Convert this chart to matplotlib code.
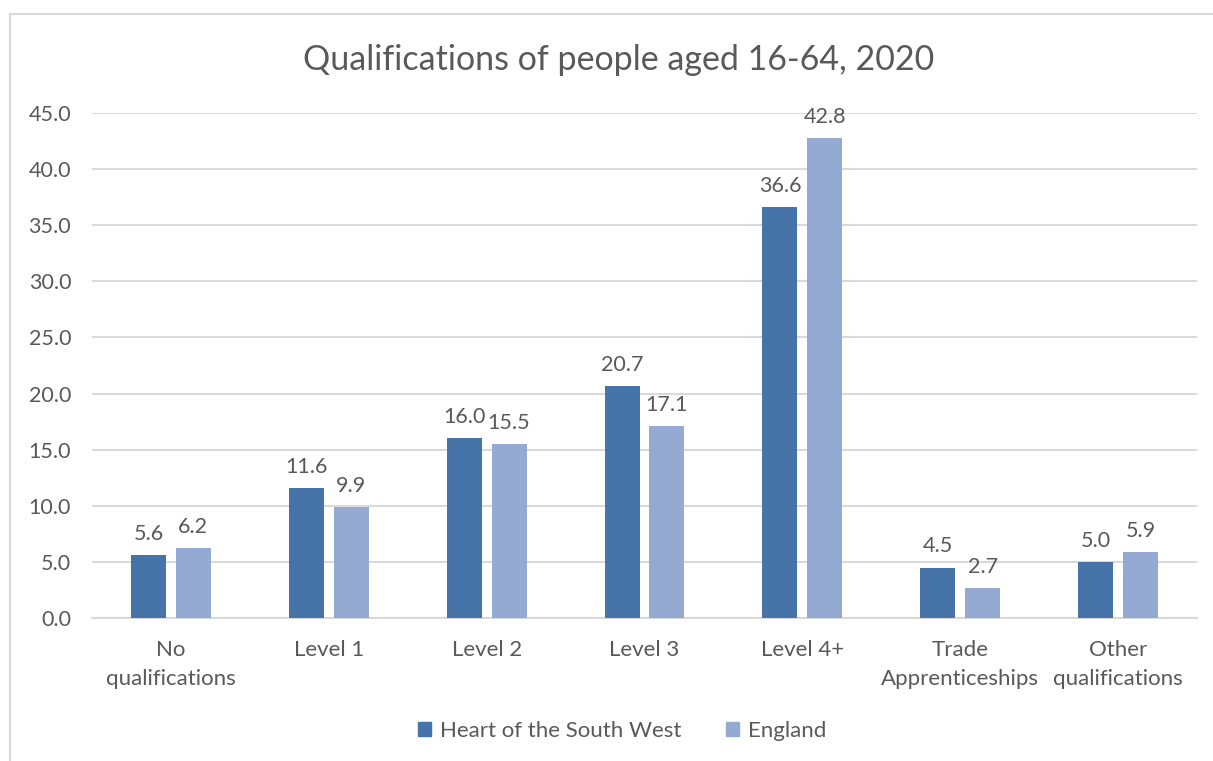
import matplotlib.pyplot as plt
import numpy as np
from matplotlib.lines import Line2D
import matplotlib.patches as mpatches

plt.rcParams['font.family'] = ['Lato', 'DejaVu Sans']

categories = ["No\nqualifications", "Level 1", "Level 2", "Level 3", "Level 4+",
              "Trade\nApprenticeships", "Other\nqualifications"]
hotsw = [5.6, 11.6, 16.0, 20.7, 36.6, 4.5, 5.0]
england = [6.2, 9.9, 15.5, 17.1, 42.8, 2.7, 5.9]
series_names = ["Heart of the South West", "England"]
colors = ["#4674A9", "#95AAD2"]

TEXT = "#595959"
GRID = "#D9D9D9"

W, H = 1213, 761
fig = plt.figure(figsize=(W / 100, H / 100), dpi=100)
ax = fig.add_axes([92 / W, 1 - 618 / H, (1197 - 92) / W, (618 - 113) / H])

x = np.arange(len(categories))
bw = 0.222
off = 0.142
for vals, dx, c in ((hotsw, -off, colors[0]), (england, off, colors[1])):
    bars = ax.bar(x + dx, vals, width=bw, color=c, zorder=3)
    for b, v in zip(bars, vals):
        ax.annotate(f"{v:.1f}", (b.get_x() + b.get_width() / 2, v),
                    xytext=(0, 8), textcoords="offset points",
                    ha="center", va="bottom", fontsize=15.5, color=TEXT)

ax.set_xlim(-0.5, len(categories) - 0.5)
ax.set_ylim(0, 45)
ax.set_yticks(np.arange(0, 46, 5))
ax.set_yticklabels([f"{t:.1f}" for t in np.arange(0, 46, 5)], fontsize=15.5, color=TEXT)
ax.set_xticks(x)
ax.set_xticklabels(categories, fontsize=16, color=TEXT, linespacing=1.55)
ax.tick_params(length=0)
ax.tick_params(axis='x', pad=16)
ax.tick_params(axis='y', pad=15)
ax.grid(axis='y', color=GRID, linewidth=1.5, zorder=0)
for s in ("top", "right", "left"):
    ax.spines[s].set_visible(False)
ax.spines["bottom"].set_color(GRID)
ax.spines["bottom"].set_linewidth(1.5)

fig.text(619 / W, 1 - 60 / H, "Qualifications of people aged 16-64, 2020",
         ha="center", va="center", fontsize=24.5, color=TEXT)

handles = [mpatches.Patch(color=c, label=n) for c, n in zip(colors, series_names)]
fig.legend(handles=handles, loc="center", bbox_to_anchor=(622 / W, 1 - 731 / H),
           ncol=2, frameon=False, fontsize=16, labelcolor=TEXT,
           handlelength=0.6, handleheight=0.6, handletextpad=0.4, columnspacing=2.0)

# chart border (top and left edges visible)
fig.add_artist(Line2D([10 / W, 10 / W], [0, 1 - 14 / H], transform=fig.transFigure,
                      color=GRID, linewidth=1.5))
fig.add_artist(Line2D([10 / W, 1], [1 - 14 / H, 1 - 14 / H], transform=fig.transFigure,
                      color=GRID, linewidth=1.5))

fig.savefig("out.png", dpi=100)
